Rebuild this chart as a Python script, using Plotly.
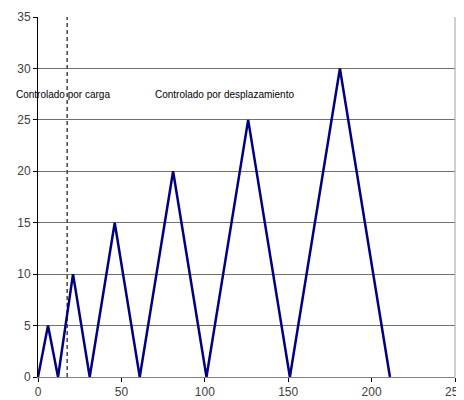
import plotly.graph_objects as go

x_disp = [0, 6, 12, 21, 31, 46, 61, 81, 101, 126, 151, 181, 211]
y_load = [0, 5, 0, 10, 0, 15, 0, 20, 0, 25, 0, 30, 0]
x_limit = [17.5, 17.5]
y_limit = [0, 35]
labels = ["Controlado por carga", "Controlado por desplazamiento"]
label_x = [15, 112]
label_y = [27.5, 27.5]

fig = go.Figure()
fig.add_trace(go.Scatter(x=x_limit, y=y_limit, mode="lines",
                         line=dict(color="#505050", width=1.6, dash="4px,3px"),
                         hoverinfo="skip", showlegend=False))
fig.add_trace(go.Scatter(x=x_disp, y=y_load, mode="lines",
                         line=dict(color="#000080", width=2.5),
                         showlegend=False))
for t, xx, yy in zip(labels, label_x, label_y):
    fig.add_annotation(x=xx, y=yy, text=t, showarrow=False,
                       font=dict(family="Liberation Sans, Arial", size=10, color="#000000"))

fig.update_layout(
    width=464, height=400,
    margin=dict(l=30, r=17, t=9, b=31),
    paper_bgcolor="white", plot_bgcolor="white",
    font=dict(family="Liberation Sans, Arial", size=12, color="#404040"),
    xaxis=dict(range=[0, 250], tickvals=[0, 50, 100, 150, 200, 250],
               showgrid=False, zeroline=False, showline=True, linecolor="#808080",
               linewidth=1, ticks="outside", ticklen=4, tickcolor="#000000",
               mirror=False, fixedrange=True, automargin=False,
               ticklabeloverflow="allow"),
    yaxis=dict(range=[0, 35], tickvals=[0, 5, 10, 15, 20, 25, 30, 35],
               showgrid=True, gridcolor="#707070", gridwidth=1, zeroline=False,
               showline=True, linecolor="#000000", linewidth=1,
               ticks="outside", ticklen=4, tickcolor="#000000", fixedrange=True,
               automargin=False, ticklabeloverflow="allow"),
)
fig.add_shape(type="line", xref="paper", yref="paper", x0=1, x1=1, y0=0, y1=1,
              line=dict(color="#a0a0a0", width=1))
fig.write_html("out.html")
